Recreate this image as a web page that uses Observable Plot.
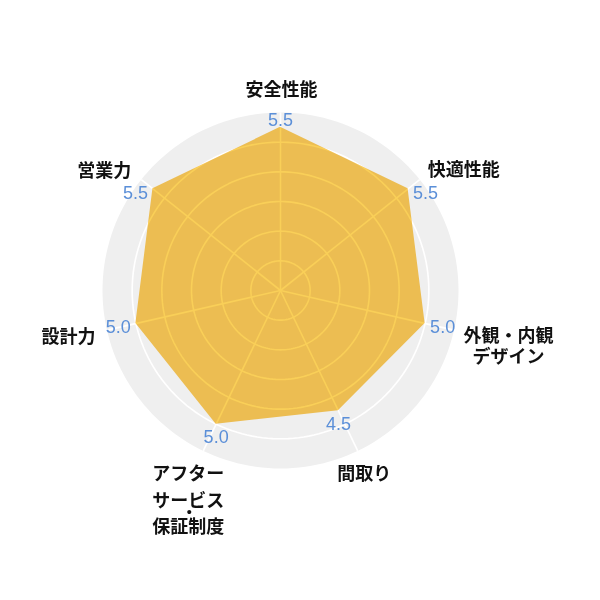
<!DOCTYPE html>
<html>
<head>
<meta charset="utf-8">
<script src="https://cdn.jsdelivr.net/npm/d3@7"></script>
<script src="https://cdn.jsdelivr.net/npm/@observablehq/plot@0.6"></script>
<style>
  html, body { margin: 0; padding: 0; background: #fff; }
  #chart { width: 600px; height: 600px; }
  #chart svg { display: block; }
</style>
</head>
<body>
<div id="chart"></div>
<script>
// ---- data ----
const categories = ["安全性能", "快適性能", "外観・内観\nデザイン", "間取り", "アフター\nサービス\n・\n保証制度", "設計力", "営業力"];
const values = [5.5, 5.5, 5.0, 4.5, 5.0, 5.0, 5.5];
const valueLabels = ["5.5", "5.5", "5.0", "4.5", "5.0", "5.0", "5.5"];
const gridTicks = [1, 2, 3, 4, 5];
const maxValue = 6;

// ---- derived ----
const n = categories.length;
const lonOf = i => 180 - i * 360 / n;
const rows = categories.map((c, i) => ({
  i,
  category: c,
  main: c.split("\n").filter(s => s !== "・").join("\n"),
  dot: c.split("\n").includes("・"),
  value: values[i],
  label: valueLabels[i],
  lon: lonOf(i)
}));
const circle = r => d3.geoCircle().center([0, 90]).radius(r)();

// ---- styles ----
const fillColor = "#ecbd52";
const innerGrid = "#f9cf58";
const valueColor = "#5b8fd8";
const catFont = "'Noto Sans CJK JP', 'Noto Sans CJK SC', sans-serif";
const numFont = "'Liberation Sans', Arial, sans-serif";

const valueGroups = [
  {idx: [0], textAnchor: "middle", dx: 0, dy: -7},
  {idx: [1, 2], textAnchor: "start", dx: 5, dy: 4},
  {idx: [3, 4], textAnchor: "middle", dx: 0, dy: 13},
  {idx: [5, 6], textAnchor: "end", dx: -5, dy: 4}
];

const labelLayout = [
  {textAnchor: "middle", dx: 1, dy: -23},
  {textAnchor: "start", dx: 8, dy: -10},
  {textAnchor: "middle", dx: 54.5, dy: 16, lineHeight: 21 / 18},
  {textAnchor: "middle", dx: 6.5, dy: 22.5},
  {textAnchor: "middle", dx: -15, dy: 47, lineHeight: 27 / 18, dotDx: -14, dotDy: 62},
  {textAnchor: "end", dx: -11.5, dy: 6},
  {textAnchor: "end", dx: -10, dy: -9}
];

const marks = [
  Plot.geo([circle(maxValue)], {fill: "#efefef", stroke: "none"}),
  Plot.geo(gridTicks.map(circle), {fill: "none", stroke: "#fff", strokeWidth: 1.6}),
  Plot.link(rows, {x1: "lon", y1: 90, x2: "lon", y2: 90 - maxValue, stroke: "#fff", strokeWidth: 1.6}),
  Plot.area(rows, {x1: "lon", y1: d => 90 - d.value, x2: 0, y2: 90, curve: "linear-closed", fill: fillColor, stroke: "none"}),
  Plot.geo(gridTicks.map(circle), {fill: "none", stroke: innerGrid, strokeWidth: 1.6, mixBlendMode: "lighten"}),
  Plot.link(rows, {x1: "lon", y1: 90, x2: "lon", y2: 90 - maxValue, stroke: innerGrid, strokeWidth: 1.6, mixBlendMode: "lighten"})
];

for (const g of valueGroups) {
  marks.push(Plot.text(rows.filter(d => g.idx.includes(d.i)), {
    x: "lon", y: d => 90 - d.value, text: "label",
    textAnchor: g.textAnchor, dx: g.dx, dy: g.dy,
    fill: valueColor, fontSize: 18, fontFamily: numFont
  }));
}

rows.forEach((d, i) => {
  const L = labelLayout[i];
  marks.push(Plot.text([d], {
    x: "lon", y: 90 - maxValue, text: "main",
    textAnchor: L.textAnchor, dx: L.dx, dy: L.dy,
    lineHeight: L.lineHeight || 1.2,
    fill: "#111", fontSize: 18, fontWeight: "bold", fontFamily: catFont
  }));
  if (d.dot) {
    marks.push(Plot.text([d], {
      x: "lon", y: 90 - maxValue, text: () => "・",
      textAnchor: "middle", dx: L.dotDx, dy: L.dotDy,
      fill: "#111", fontSize: 16, fontWeight: "bold", fontFamily: catFont
    }));
  }
});

const chart = Plot.plot({
  width: 600,
  height: 600,
  marginLeft: 102,
  marginRight: 142,
  marginTop: 112,
  marginBottom: 132,
  projection: {type: "azimuthal-equidistant", rotate: [0, -90], domain: circle(maxValue)},
  marks
});
document.getElementById("chart").appendChild(chart);
</script>
</body>
</html>
